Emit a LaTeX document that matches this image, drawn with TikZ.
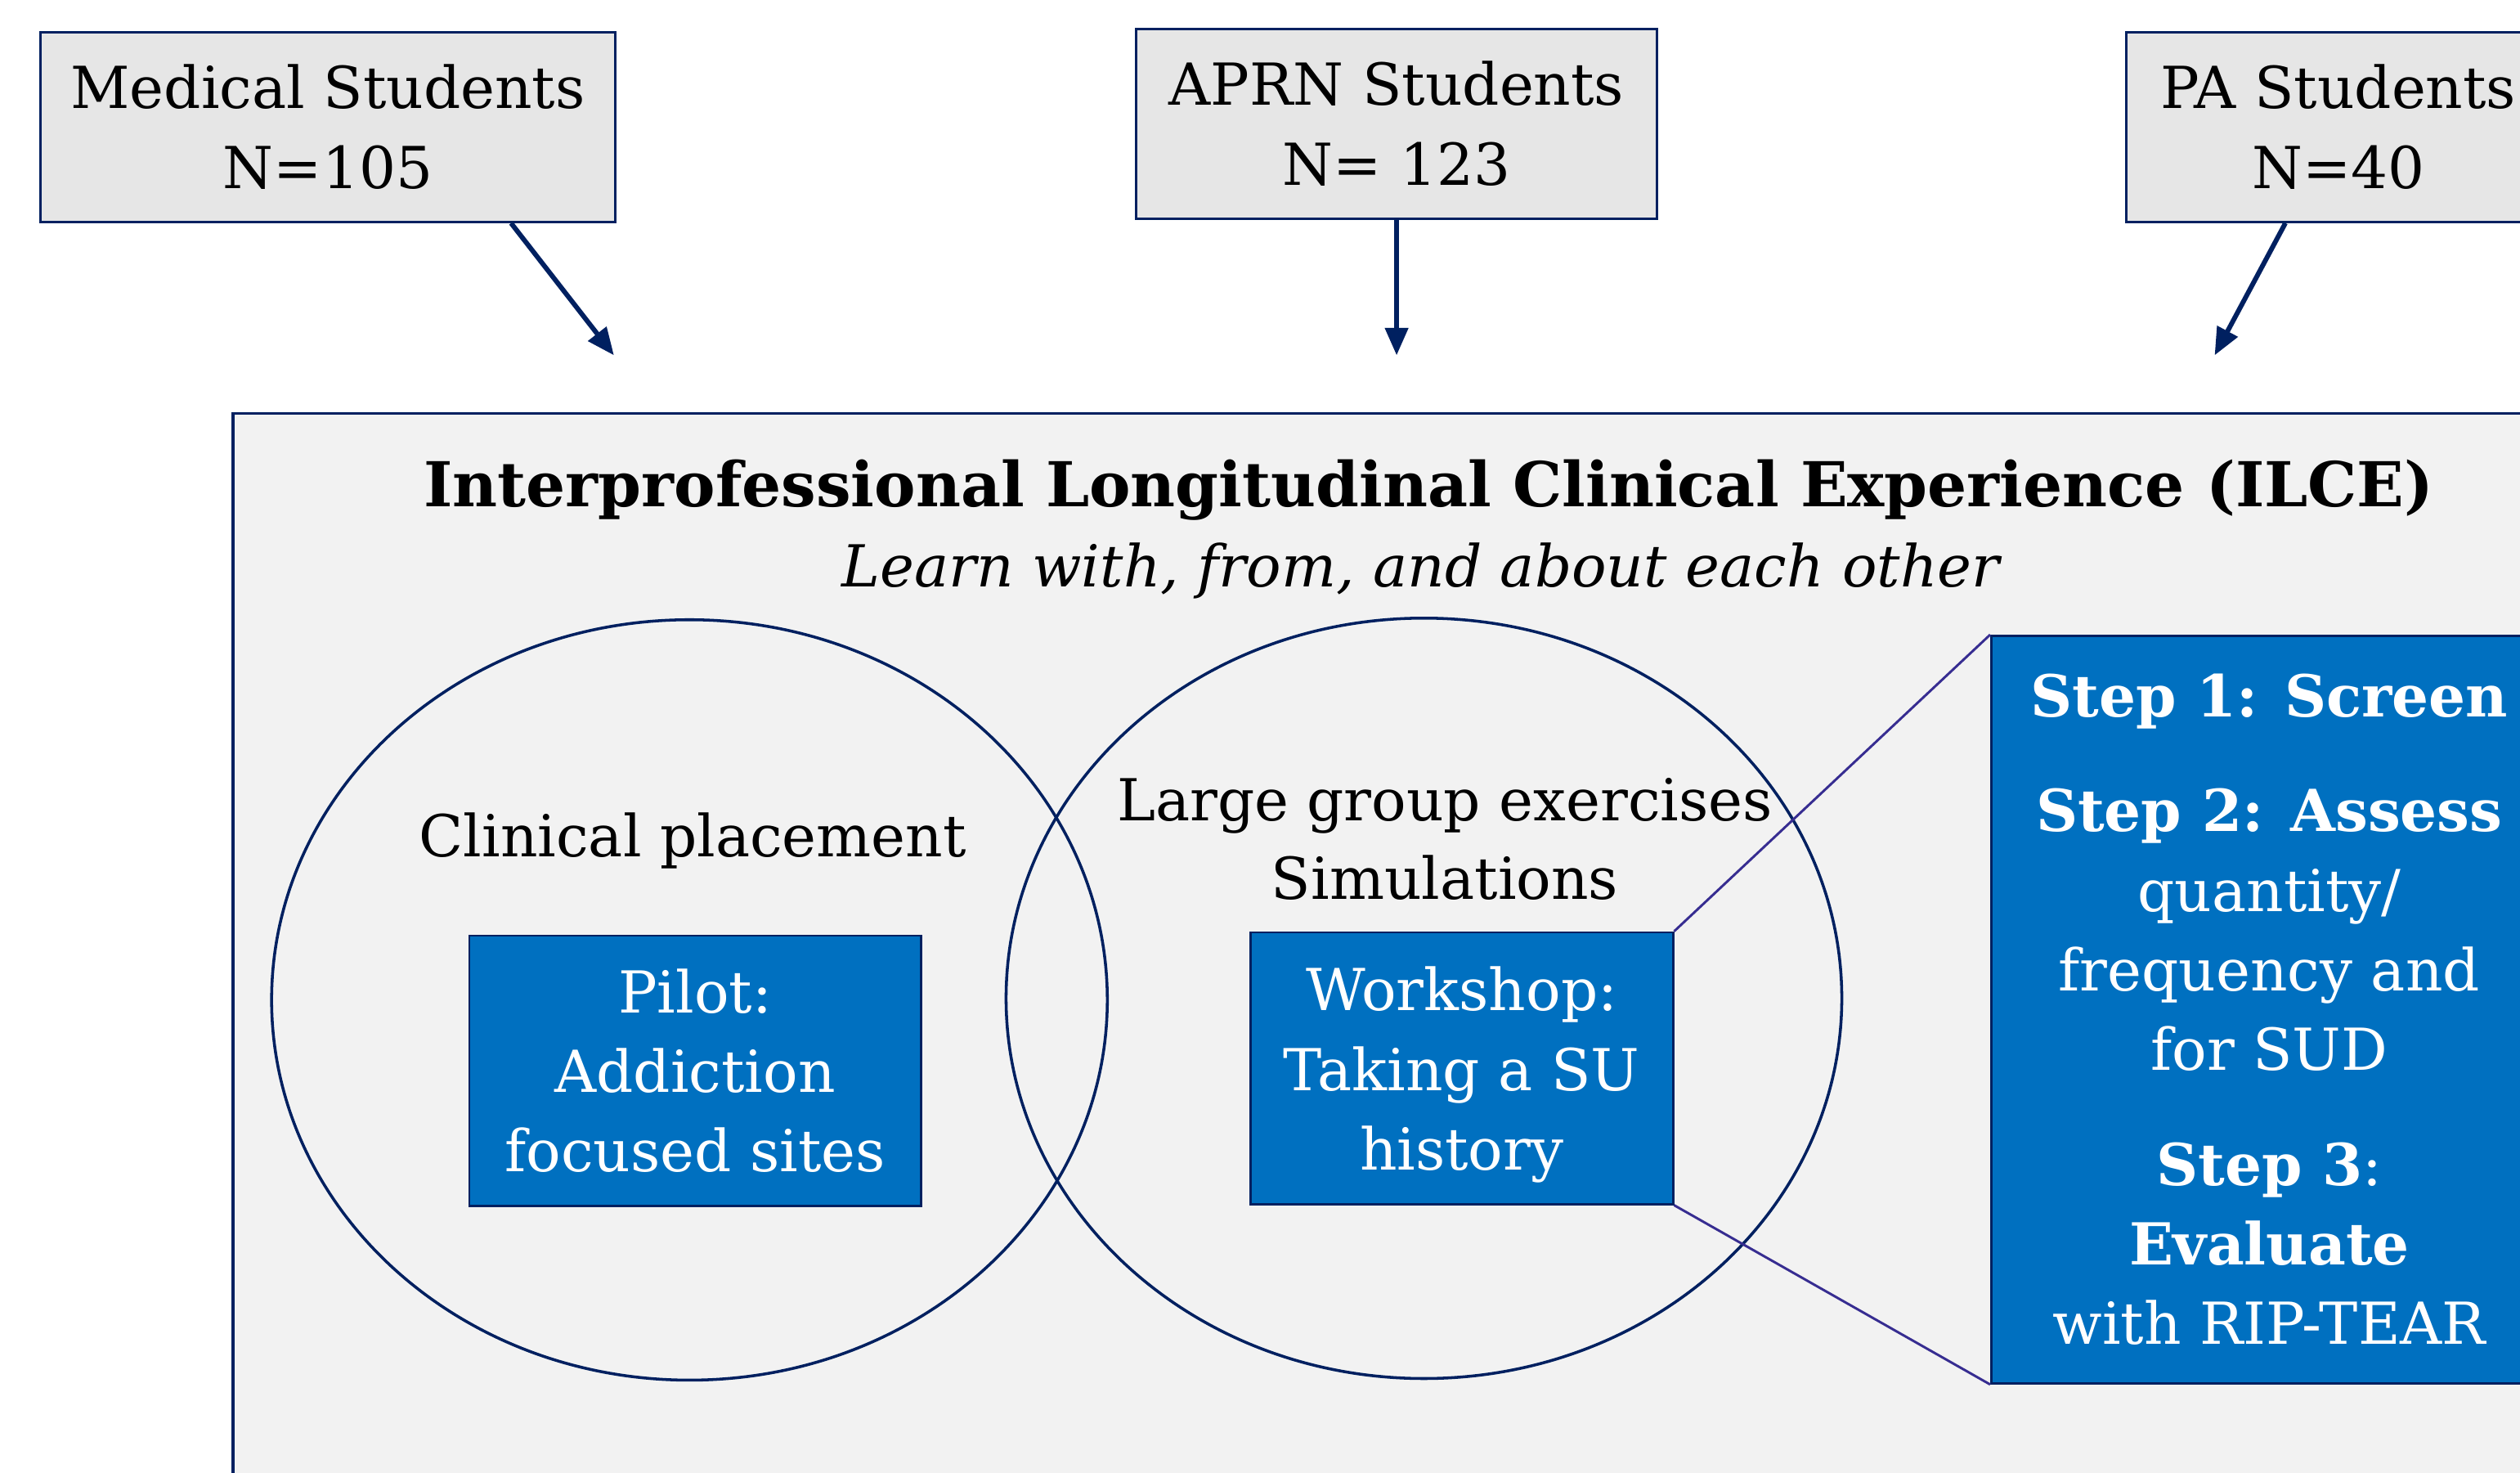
\documentclass[tikz,border=0pt]{standalone}
\usepackage{fontspec}
\setmainfont{DejaVu Serif}
\usetikzlibrary{shapes.geometric,arrows.meta}
\definecolor{navyline}{RGB}{0,32,96}
\definecolor{boxgray}{RGB}{230,230,230}
\definecolor{panelgray}{RGB}{242,242,242}
\definecolor{stepblue}{RGB}{0,112,192}
\definecolor{zoomline}{RGB}{55,45,145}

\begin{document}
\begin{tikzpicture}[x=1pt,y=1pt,yscale=-1,xscale=1,
  studentbox/.style={draw=navyline,line width=1.6pt,fill=boxgray,align=center,inner sep=0pt,minimum height=118,font=\fontsize{36}{50}\selectfont},
  bluebox/.style={draw=navyline,line width=1.4pt,fill=stepblue,text=white,align=center,inner sep=0pt,font=\fontsize{36}{49.5}\selectfont},
  ring/.style={ellipse,draw=navyline,line width=1.8pt,inner sep=0pt,minimum width=520,minimum height=473},
  pointer/.style={navyline,line width=3pt,-{Triangle[length=17pt,width=14pt]}},
  zoomedge/.style={zoomline,line width=1.5pt},
  label/.style={align=center,font=\fontsize{36}{49}\selectfont}]
\useasboundingbox (0,0) rectangle (1568,916);
\clip (0,0) rectangle (1568,916);

%Shape: Rectangle [id:panel]
\draw [draw=navyline,line width=1.6pt,fill=panelgray] (145,257) rectangle (1640,990);

%Shape: Ellipse [id:placement]
\node [ring] (placement) at (429,622) {};
%Shape: Ellipse [id:group]
\node [ring] (group) at (886,621) {};

% Student boxes
\node [studentbox,minimum width=358] (med) at (204,79) {Medical Students\\N=105};
\node [studentbox,minimum width=324] (aprn) at (869,77) {APRN Students\\N= 123};
\node [studentbox,minimum width=264] (pa) at (1455,79) {PA Students\\N=40};

%Straight Lines [id:arrows]
\coordinate (medend) at (382,221);
\coordinate (aprnend) at (869,221);
\coordinate (paend) at (1378,221);
\draw [pointer] ([xshift=114pt]med.south) -- (medend);
\draw [pointer] (aprn.south) -- (aprnend);
\draw [pointer] ([xshift=-33pt]pa.south) -- (paend);

% Text Node
\node [font=\fontsize{38.5}{50}\selectfont\bfseries] (title) at (889,305) {Interprofessional Longitudinal Clinical Experience (ILCE)};
% Text Node
\node [font=\fontsize{36}{50}\selectfont\itshape] (motto) at (884,355) {Learn with, from, and about each other};
% Text Node
\node [label] (placelabel) at (431,523) {Clinical placement};
% Text Node
\node [label] (grouplabel) at (899,522) {Large group exercises\\Simulations};

%Shape: Rectangle [id:pilot]
\node [bluebox,minimum width=281,minimum height=168] (pilot) at (432.5,666) {Pilot:\\Addiction\\focused sites};
%Shape: Rectangle [id:workshop]
\node [bluebox,minimum width=263,minimum height=169,text depth=-8pt] (workshop) at (909.5,664.5) {Workshop:\\Taking a SU\\history};
%Shape: Rectangle [id:steps]
\node [bluebox,minimum width=346,minimum height=465] (steps) at (1412,628) {\textbf{Step 1: Screen}\\[22pt]\textbf{Step 2: Assess}\\quantity/\\frequency and\\for SUD\\[22pt]\textbf{Step 3}:\\\textbf{Evaluate}\\with RIP-TEAR};

%Straight Lines [id:zoom]
\draw [zoomedge] (workshop.north east) -- (steps.north west);
\draw [zoomedge] (workshop.south east) -- (steps.south west);

\end{tikzpicture}
\end{document}
